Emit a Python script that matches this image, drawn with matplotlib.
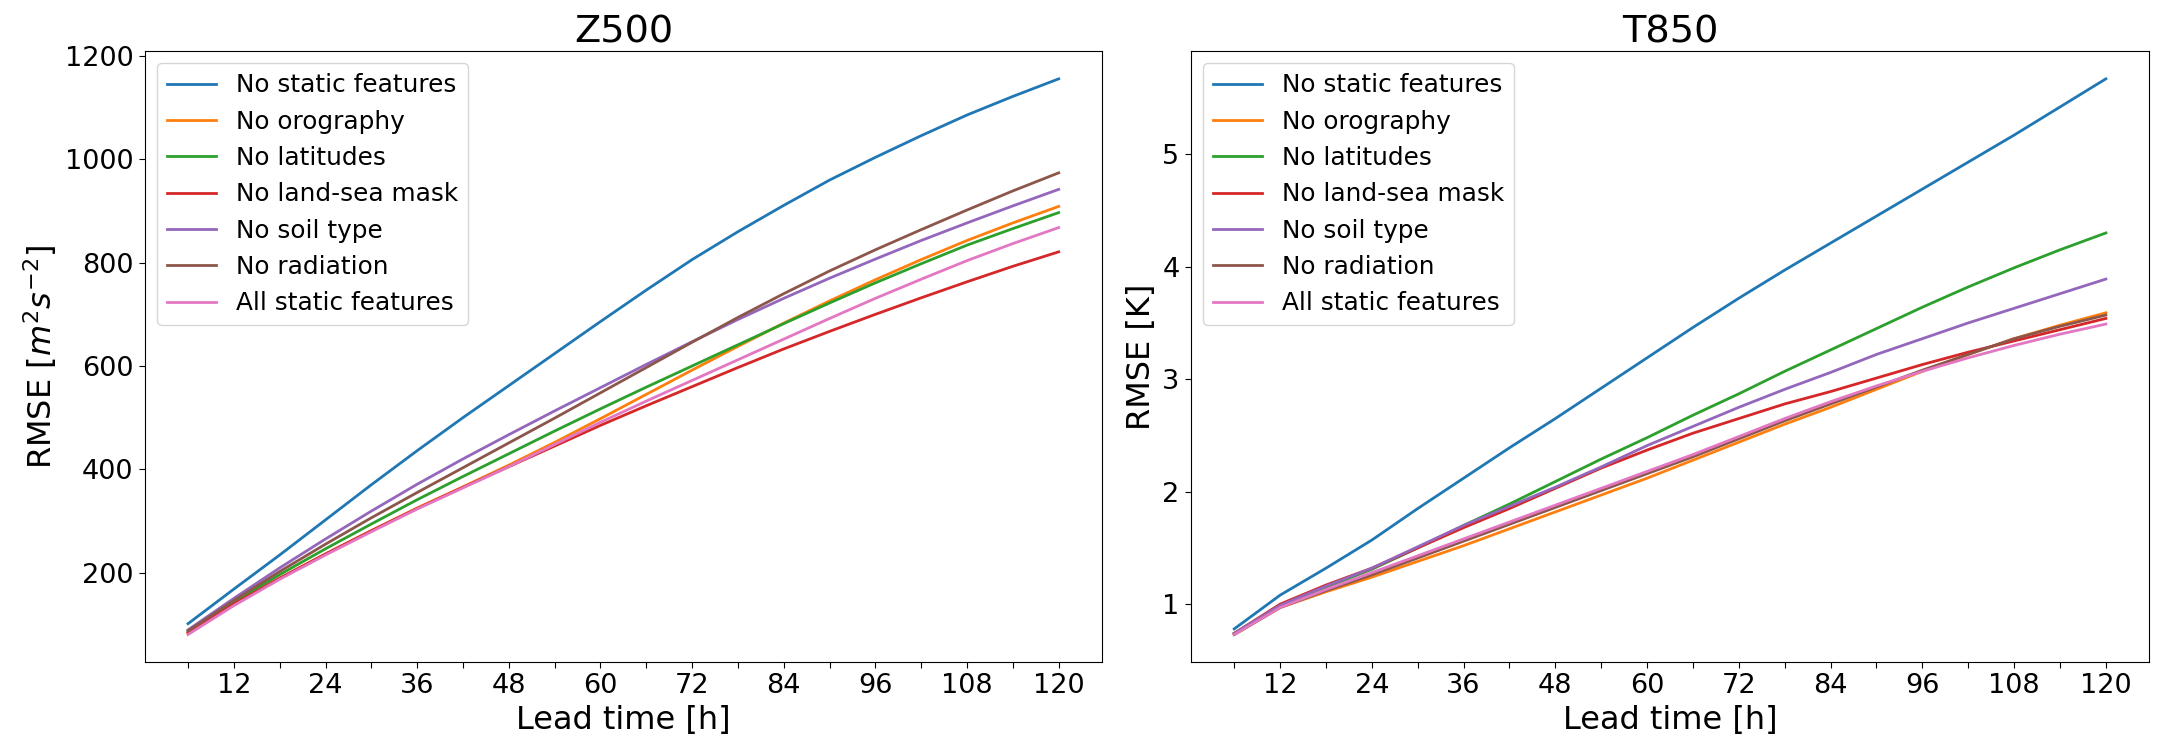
import numpy as np
import matplotlib
matplotlib.use('Agg')
import matplotlib.pyplot as plt

# lead times in hours
lead = [6, 12, 18, 24, 30, 36, 42, 48, 54, 60, 66, 72, 78, 84, 90, 96, 102, 108, 114, 120]

names = ['No static features', 'No orography', 'No latitudes', 'No land-sea mask',
         'No soil type', 'No radiation', 'All static features']

# Z500 RMSE [m^2 s^-2]
z_none = [101, 168, 234, 302, 370, 436, 500, 562, 624, 686, 747, 806, 860, 911, 960, 1004, 1046, 1086, 1122, 1156]
z_oro = [83, 139, 189, 236, 281, 325, 366, 408, 452, 498, 545, 592, 638, 683, 726, 767, 806, 843, 877, 909]
z_lat = [86, 143, 196, 246, 294, 341, 386, 430, 474, 517, 559, 600, 641, 682, 722, 761, 798, 834, 866, 897]
z_lsm = [83, 139, 189, 236, 281, 324, 365, 405, 445, 485, 523, 560, 597, 633, 667, 700, 732, 763, 793, 821]
z_soil = [89, 150, 209, 265, 319, 371, 420, 467, 513, 558, 603, 647, 690, 731, 770, 807, 843, 877, 910, 942]
z_rad = [87, 146, 202, 255, 306, 355, 403, 451, 499, 548, 597, 646, 694, 740, 784, 825, 864, 902, 939, 974]
z_all = [80, 136, 187, 234, 279, 323, 364, 405, 448, 491, 532, 572, 612, 652, 692, 731, 768, 804, 837, 868]

# T850 RMSE [K]
t_none = [0.78, 1.08, 1.32, 1.57, 1.85, 2.12, 2.39, 2.65, 2.92, 3.19, 3.46, 3.72, 3.97, 4.21, 4.45, 4.69, 4.93, 5.17, 5.42, 5.67]
t_oro = [0.73, 0.97, 1.11, 1.24, 1.38, 1.52, 1.67, 1.82, 1.97, 2.12, 2.28, 2.44, 2.60, 2.75, 2.91, 3.07, 3.22, 3.36, 3.48, 3.59]
t_lat = [0.74, 0.98, 1.15, 1.31, 1.50, 1.70, 1.89, 2.09, 2.29, 2.48, 2.68, 2.87, 3.07, 3.26, 3.45, 3.64, 3.82, 3.99, 4.15, 4.30]
t_lsm = [0.74, 1.00, 1.17, 1.32, 1.50, 1.68, 1.85, 2.03, 2.21, 2.37, 2.52, 2.65, 2.78, 2.89, 3.01, 3.13, 3.24, 3.34, 3.44, 3.54]
t_soil = [0.74, 0.99, 1.16, 1.32, 1.51, 1.70, 1.87, 2.04, 2.22, 2.41, 2.58, 2.75, 2.91, 3.06, 3.22, 3.36, 3.50, 3.63, 3.76, 3.89]
t_rad = [0.73, 0.97, 1.12, 1.26, 1.41, 1.56, 1.71, 1.86, 2.01, 2.16, 2.31, 2.47, 2.63, 2.78, 2.93, 3.08, 3.22, 3.36, 3.47, 3.57]
t_all = [0.73, 0.97, 1.13, 1.28, 1.43, 1.58, 1.73, 1.88, 2.03, 2.18, 2.33, 2.49, 2.65, 2.80, 2.94, 3.07, 3.19, 3.30, 3.40, 3.49]

z_runs = [z_none, z_oro, z_lat, z_lsm, z_soil, z_rad, z_all]
t_runs = [t_none, t_oro, t_lat, t_lsm, t_soil, t_rad, t_all]

# tick every 6h, label only every 12h
xticks = list(range(6, 121, 6))
xticklabels = [str(t) if t % 12 == 0 else '' for t in xticks]

fig = plt.figure(figsize=(21.57, 7.4), dpi=100)
ax1 = fig.add_axes([0.067, 0.105, 0.444, 0.826])
ax2 = fig.add_axes([0.552, 0.105, 0.4445, 0.826])

for ax, runs, title, ylab in [(ax1, z_runs, 'Z500', r'RMSE [$m^2 s^{-2}$]'),
                              (ax2, t_runs, 'T850', 'RMSE [K]')]:
    for i in range(len(names)):
        ax.plot(lead, runs[i], label=names[i], lw=2)
    ax.set_xticks(xticks)
    ax.set_xticklabels(xticklabels)
    ax.tick_params(labelsize=19.5, length=4.5)
    ax.set_xlabel('Lead time [h]', fontsize=23)
    ax.set_ylabel(ylab, fontsize=23)
    ax.set_title(title, fontsize=27.5)
    ax.legend(loc='upper left', fontsize=17.8)

fig.savefig('out.png', dpi=100)
